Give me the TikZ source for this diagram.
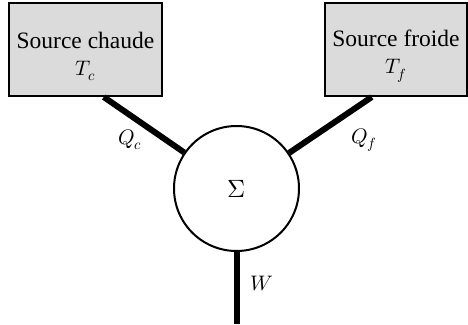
\documentclass[tikz,border=0pt]{standalone}
\usepackage{unicode-math}
\setmainfont{Liberation Serif}
\setmathfont{Latin Modern Math}
\usetikzlibrary{positioning}

\begin{document}
\begin{tikzpicture}[
  x=1pt, y=1pt,
  src/.style={draw, line width=2pt, fill=black!14, align=center,
    minimum height=93pt, inner xsep=6pt, font=\fontsize{23.5}{27}\selectfont},
  sys/.style={draw, circle, line width=2pt, minimum size=125pt,
    font=\fontsize{25}{28}\selectfont},
  lab/.style={font=\fontsize{21}{24}\selectfont},
  flux/.style={line width=6pt}
]
\useasboundingbox (0,0) rectangle (468,-324);

\node[src, minimum width=153pt] (hot) at (85.5,-49.5) {\rule{0pt}{30pt}Source chaude\\{\fontsize{21}{27}\selectfont$T_c$}};
\node[src, minimum width=142pt] (cold) at (396,-49.5) {\rule{0pt}{30pt}Source froide\\{\fontsize{21}{27}\selectfont$T_f$}};
\node[sys] (sig) at (236.5,-188.5) {$\Sigma$};
\coordinate (out) at (236.5,-324);

\node[lab] (qc) at (130,-140) {$Q_c$};
\node[lab] (qf) at (364,-140) {$Q_f$};
\node[lab] (w) at (262,-284) {$W$};

% flux
\draw[flux] (hot.-69) -- (sig);
\draw[flux] (cold.-117) -- (sig);
\draw[flux] (sig) -- (out);

\end{tikzpicture}
\end{document}
